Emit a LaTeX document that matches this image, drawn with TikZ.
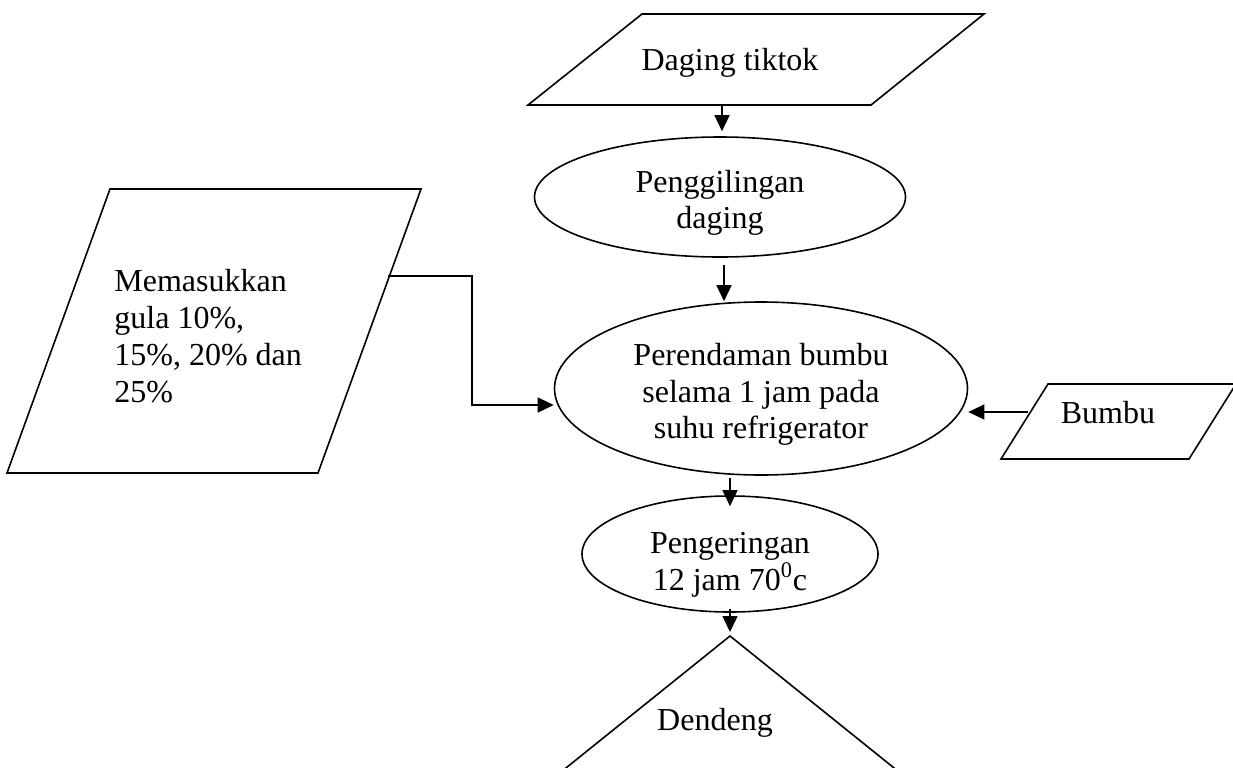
\documentclass[tikz,border=0pt]{standalone}
\usepackage{fontspec}
\setmainfont{Liberation Serif}
\usetikzlibrary{positioning, arrows.meta, shapes.geometric}

\begin{document}
\begin{tikzpicture}[x=0.5pt, y=-0.5pt,
    font=\fontsize{16}{18.4}\selectfont,
    proc/.style={ellipse, draw, line width=0.8pt, inner sep=-4pt, align=center},
    io/.style={draw, line width=0.8pt, line join=miter},
    lbl/.style={inner sep=0pt},
    arr/.style={-{Triangle[length=8pt, width=7.5pt]}, line width=0.7pt}]
    \useasboundingbox (0,0) rectangle (1233,767);
    \clip (0,0) rectangle (1233,767);

    % Input / output shapes
    \draw[io] (528,105) -- (642,14) -- (984,14) -- (871,105) -- cycle;
    \draw[io] (7,473) -- (110,189) -- (421,189) -- (318,473) -- cycle;
    \draw[io] (1001,459) -- (1048,384) -- (1236,384) -- (1189,459) -- cycle;
    \draw[io] (551,780) -- (730,636) -- (909,780);

    % Nodes
    \node (daging) [lbl, anchor=base] at (730,70) {Daging tiktok};
    \node (gula) [lbl, anchor=north west, align=left] at (114,269) {Memasukkan\\gula 10\%,\\15\%, 20\% dan\\25\%};
    \node (bumbu) [lbl, anchor=base] at (1108,423) {Bumbu};
    \node (dendeng) [lbl, anchor=base] at (715,730) {Dendeng};
    \node (giling) [proc, minimum width=185.5pt, minimum height=60pt] at (720,197) {\rule{0pt}{17pt}Penggilingan\\daging};
    \node (rendam) [proc, minimum width=206.5pt, minimum height=86.5pt] at (761,388.5) {\rule{0pt}{17pt}Perendaman bumbu\\selama 1 jam pada\\suhu refrigerator};
    \node (kering) [proc, minimum width=148pt, minimum height=58pt] at (730,554) {\rule{0pt}{21pt}Pengeringan\\12 jam 70\textsuperscript{0}c};

    % Connection points
    \coordinate (dagingS) at (722,105);
    \coordinate (gilingS) at ([xshift=2pt, yshift=-3.5pt]giling.south);
    \coordinate (gulaE) at (388,276);
    \coordinate (gulaK) at (472,405);
    \coordinate (bumbuW) at (1028,412);
    \coordinate (rendamS) at (730,478);
    \coordinate (dendengTop) at (730,636);

    % Arrows
    \draw[arr, shorten >=2.5pt] (dagingS) -- (dagingS |- giling.north);
    \draw[arr] (gilingS) -- (gilingS |- rendam.north);
    \draw[arr] (gulaE) -| (gulaK) -- (rendam.west |- gulaK);
    \draw[arr] (bumbuW) -- (rendam.east |- bumbuW);
    \draw[arr] (rendamS) -- ([yshift=-5.5pt]kering.north);
    \draw[arr] ([yshift=2pt]kering.south) -- ([yshift=2pt]dendengTop);
\end{tikzpicture}
\end{document}
